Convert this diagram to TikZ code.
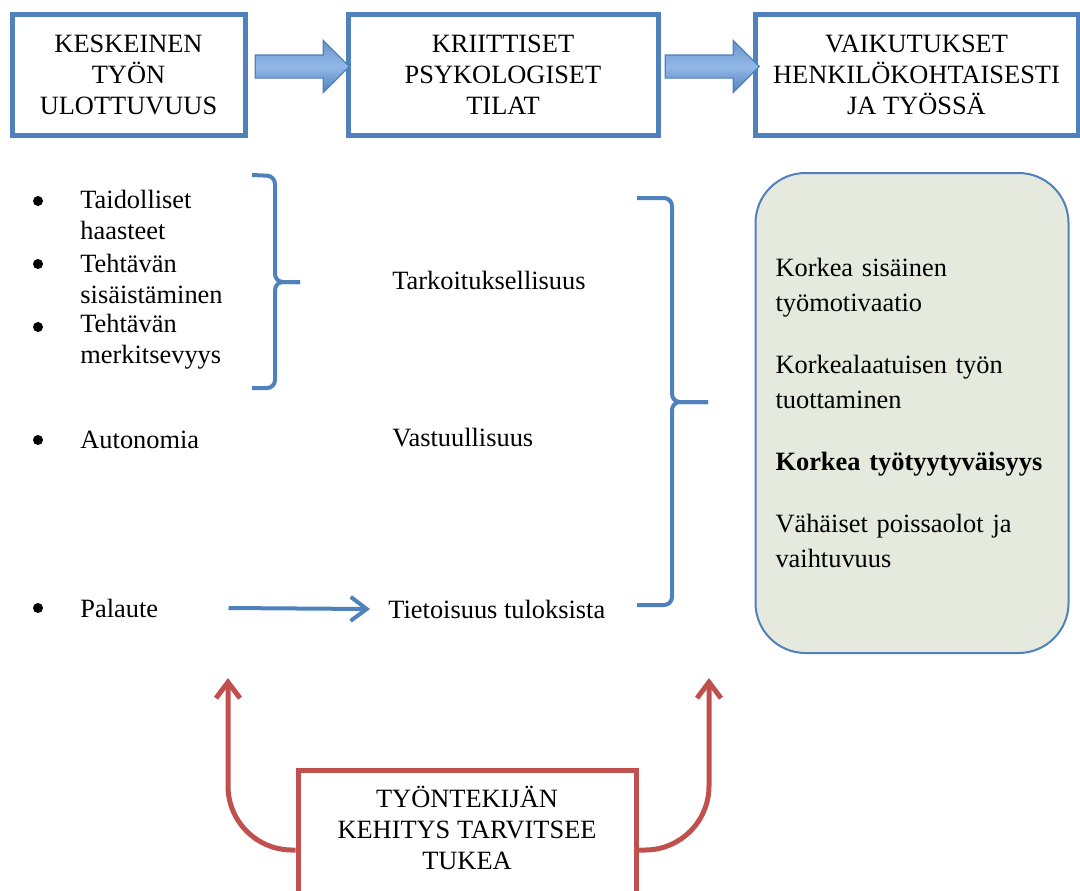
\documentclass[tikz,border=0pt]{standalone}
\usepackage{fontspec}
\setmainfont{Liberation Serif}
\usetikzlibrary{arrows.meta,shapes.arrows,calc}
\definecolor{boxblue}{RGB}{79,129,189}
\definecolor{arrowlight}{RGB}{146,184,232}
\definecolor{supportred}{RGB}{192,80,77}
\definecolor{effectfill}{RGB}{230,233,221}
\begin{document}
\begin{tikzpicture}[>={Straight Barb[length=8pt,width=12pt]},x=0.5pt,y=-0.5pt,
  every node/.style={font=\fontsize{13.2pt}{15.5pt}\selectfont},
  headbox/.style={draw=boxblue,line width=2.5pt,align=center,minimum height=60.5pt},
  flowarrow/.style={single arrow,draw=boxblue,line width=0.6pt,top color=boxblue!85,bottom color=boxblue,middle color=arrowlight,
    inner xsep=0pt,inner ysep=5.5pt,single arrow head extend=7.25pt,minimum height=47pt},
  listitem/.style={anchor=west,align=left,inner sep=0pt},
  statetext/.style={anchor=west,inner sep=0pt},
  bracket/.style={draw=boxblue,line width=2pt,rounded corners=4pt},
  effectbox/.style={draw=boxblue,line width=1pt,fill=effectfill,rounded corners=25pt,minimum width=156.5pt,
    minimum height=240pt,text width=136.5pt,align=left,font=\fontsize{13.2pt}{17.5pt}\selectfont},
  supportbox/.style={draw=supportred,line width=2.5pt,minimum width=169pt,minimum height=65pt},
  feedback/.style={draw=boxblue,line width=2pt,->},
  support/.style={draw=supportred,line width=2.5pt,<-,rounded corners=32pt}]
\useasboundingbox (0,0) rectangle (1080,890);
% top row
\node[headbox,minimum width=116.5pt] (dim) at (128.5,74.5) {KESKEINEN\\TYÖN\\ULOTTUVUUS};
\node[headbox,minimum width=155pt] (psy) at (503,74.5) {KRIITTISET\\PSYKOLOGISET\\TILAT};
\node[headbox,minimum width=161.5pt] (out) at (916.5,74.5) {VAIKUTUKSET\\HENKILÖKOHTAISESTI\\JA TYÖSSÄ};
\node[flowarrow] (a1) at ($(dim.east)!0.5!(psy.west)+(0,-8)$) {};
\node[flowarrow] (a2) at ($(psy.east)!0.5!(out.west)+(0,-8)$) {};
% job dimensions
\node[listitem] (taid) at (80,215) {Taidolliset\\haasteet};
\node[listitem] (sisa) at (80,279) {Tehtävän\\sisäistäminen};
\node[listitem] (merk) at (80,342) {Tehtävän\\merkitsevyys};
\node[listitem] (auto) at (80,440) {Autonomia};
\node[listitem] (pal) at (80,608) {Palaute};
\foreach \y in {201,264,327,440,608}
    \fill (38,\y) circle (2.5pt);
% states
\node[statetext] (tark) at (392,280) {Tarkoituksellisuus};
\node[statetext] (vast) at (392,438) {Vastuullisuus};
\node[statetext] (tiet) at (388,609) {Tietoisuus tuloksista};
\draw[bracket] (252,175) -- (275,176) -- (275,282) -- (300,282);
\draw[bracket] (300,282) -- (275,282) -- (275,388) -- (252,388);
\draw[bracket] (637,198) -- (672,198) -- (672,402) -- (708,402);
\draw[bracket] (708,402) -- (672,402) -- (672,605) -- (637,605);
\draw[feedback] ([xshift=35pt]pal.east) -- ([xshift=-9pt]tiet.west);
% outcomes
\node[effectbox] (eff) at (912,413) {Korkea sisäinen\\työmotivaatio\\[13.5pt]Korkealaatuisen työn\\tuottaminen\\[13.5pt]\textbf{Korkea työtyytyväisyys}\\[13.5pt]Vähäiset poissaolot ja\\vaihtuvuus};
% support
\node[supportbox] (tuki) at (467,835) {};
\node[align=center] (tukit) at (467,828) {TYÖNTEKIJÄN\\KEHITYS TARVITSEE\\TUKEA};
\coordinate (up1) at (228,678);
\coordinate (up2) at (709,678);
\draw[support] (up1) |- ([yshift=-7.5pt]tuki.west);
\draw[support] (up2) |- ([yshift=-7.5pt]tuki.east);
\end{tikzpicture}
\end{document}
